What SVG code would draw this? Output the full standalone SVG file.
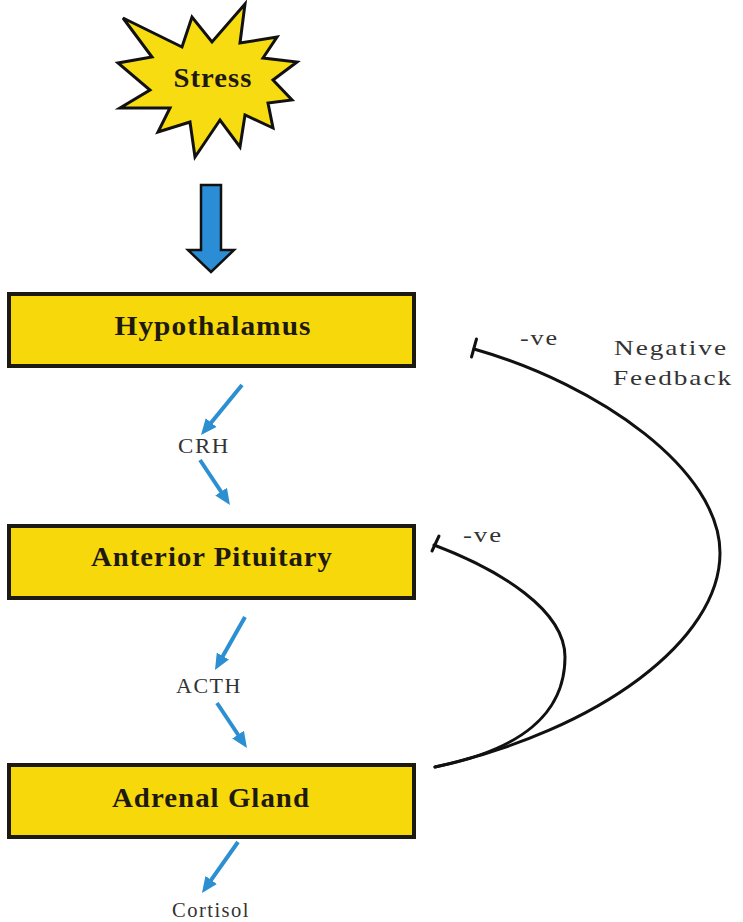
<svg xmlns="http://www.w3.org/2000/svg" width="743" height="922" viewBox="0 0 743 922">
<style>
.box{fill:#f6d80b;stroke:#1c1a10;stroke-width:4}
.lbl{font-family:"Liberation Serif","Times New Roman",serif;font-weight:bold;font-size:28px;fill:#1e1a10;text-anchor:middle;letter-spacing:1px}
.sm{font-family:"Liberation Serif","Times New Roman",serif;font-size:21px;fill:#333;letter-spacing:1.5px}
.blue{stroke:#2b8fd2;stroke-width:4;fill:none;marker-end:url(#ah)}
.fb{stroke:#111;stroke-width:3;fill:none;stroke-linecap:round}
</style>
<defs>
<marker id="ah" markerUnits="userSpaceOnUse" viewBox="0 0 16 14" markerWidth="16" markerHeight="14" refX="4" refY="7" orient="auto">
<path d="M0,0 L16,7 L0,14 z" fill="#2b8fd2"/>
</marker>
</defs>
<rect width="743" height="922" fill="#fff"/>
<g id="stress">
<polygon points="123,18 182,47 192,17 212,42 245,4 240,43 277,37 263,58 297,62 273,80 292,100 268,103 273,128 245,115 240,147 220,120 195,157 190,122 158,132 170,108 120,108 150,90 118,63 152,57" fill="#f8dc12" stroke="#111" stroke-width="3" stroke-linejoin="miter"/>
<text x="213" y="87" class="lbl" font-size="26" textLength="79" lengthAdjust="spacingAndGlyphs">Stress</text>
</g>
<g id="stress-arrow">
<polygon points="201,185 221,185 221,250 234,250 211,272 188,250 201,250" fill="#2b8dd6" stroke="#111" stroke-width="2.5" stroke-linejoin="miter"/>
</g>
<g id="hypothalamus">
<rect class="box" x="9" y="294" width="405" height="72"/>
<text x="213" y="335" class="lbl" textLength="197" lengthAdjust="spacingAndGlyphs">Hypothalamus</text>
</g>
<g id="anterior-pituitary">
<rect class="box" x="9" y="526" width="405" height="72"/>
<text x="212" y="566" class="lbl" textLength="242" lengthAdjust="spacingAndGlyphs">Anterior Pituitary</text>
</g>
<g id="adrenal-gland">
<rect class="box" x="9" y="765" width="405" height="72"/>
<text x="211" y="807" class="lbl" textLength="198" lengthAdjust="spacingAndGlyphs">Adrenal Gland</text>
</g>
<g id="connectors">
<line class="blue" x1="242" y1="385" x2="208.6" y2="425.7"/>
<line class="blue" x1="200" y1="460" x2="223.3" y2="495"/>
<line class="blue" x1="245" y1="617" x2="220.9" y2="659.6"/>
<line class="blue" x1="217" y1="703" x2="240.3" y2="738"/>
<line class="blue" x1="238" y1="842" x2="208.9" y2="883.2"/>
<path class="fb" d="M435,767 C520,750 565,715 565,657 C565,610 500,570 434,545"/>
<line class="fb" x1="432" y1="551" x2="439" y2="536"/>
<path class="fb" d="M435,767 C600,730 720,640 720,553 C720,470 600,385 474,349"/>
<line class="fb" x1="471.5" y1="357" x2="476.5" y2="339"/>
</g>
<g id="labels">
<text x="178" y="453" class="sm" textLength="52" lengthAdjust="spacingAndGlyphs">CRH</text>
<text x="176" y="693" class="sm" textLength="66" lengthAdjust="spacingAndGlyphs">ACTH</text>
<text x="172" y="917" class="sm" textLength="78" lengthAdjust="spacingAndGlyphs">Cortisol</text>
<text x="520" y="345" class="sm" font-size="22" textLength="39" lengthAdjust="spacingAndGlyphs">-ve</text>
<text x="463" y="542" class="sm" font-size="22" textLength="40" lengthAdjust="spacingAndGlyphs">-ve</text>
<text x="614" y="355" class="sm" font-size="23" textLength="114" lengthAdjust="spacingAndGlyphs">Negative</text>
<text x="613" y="385" class="sm" font-size="23" textLength="120" lengthAdjust="spacingAndGlyphs">Feedback</text>
</g>
</svg>
